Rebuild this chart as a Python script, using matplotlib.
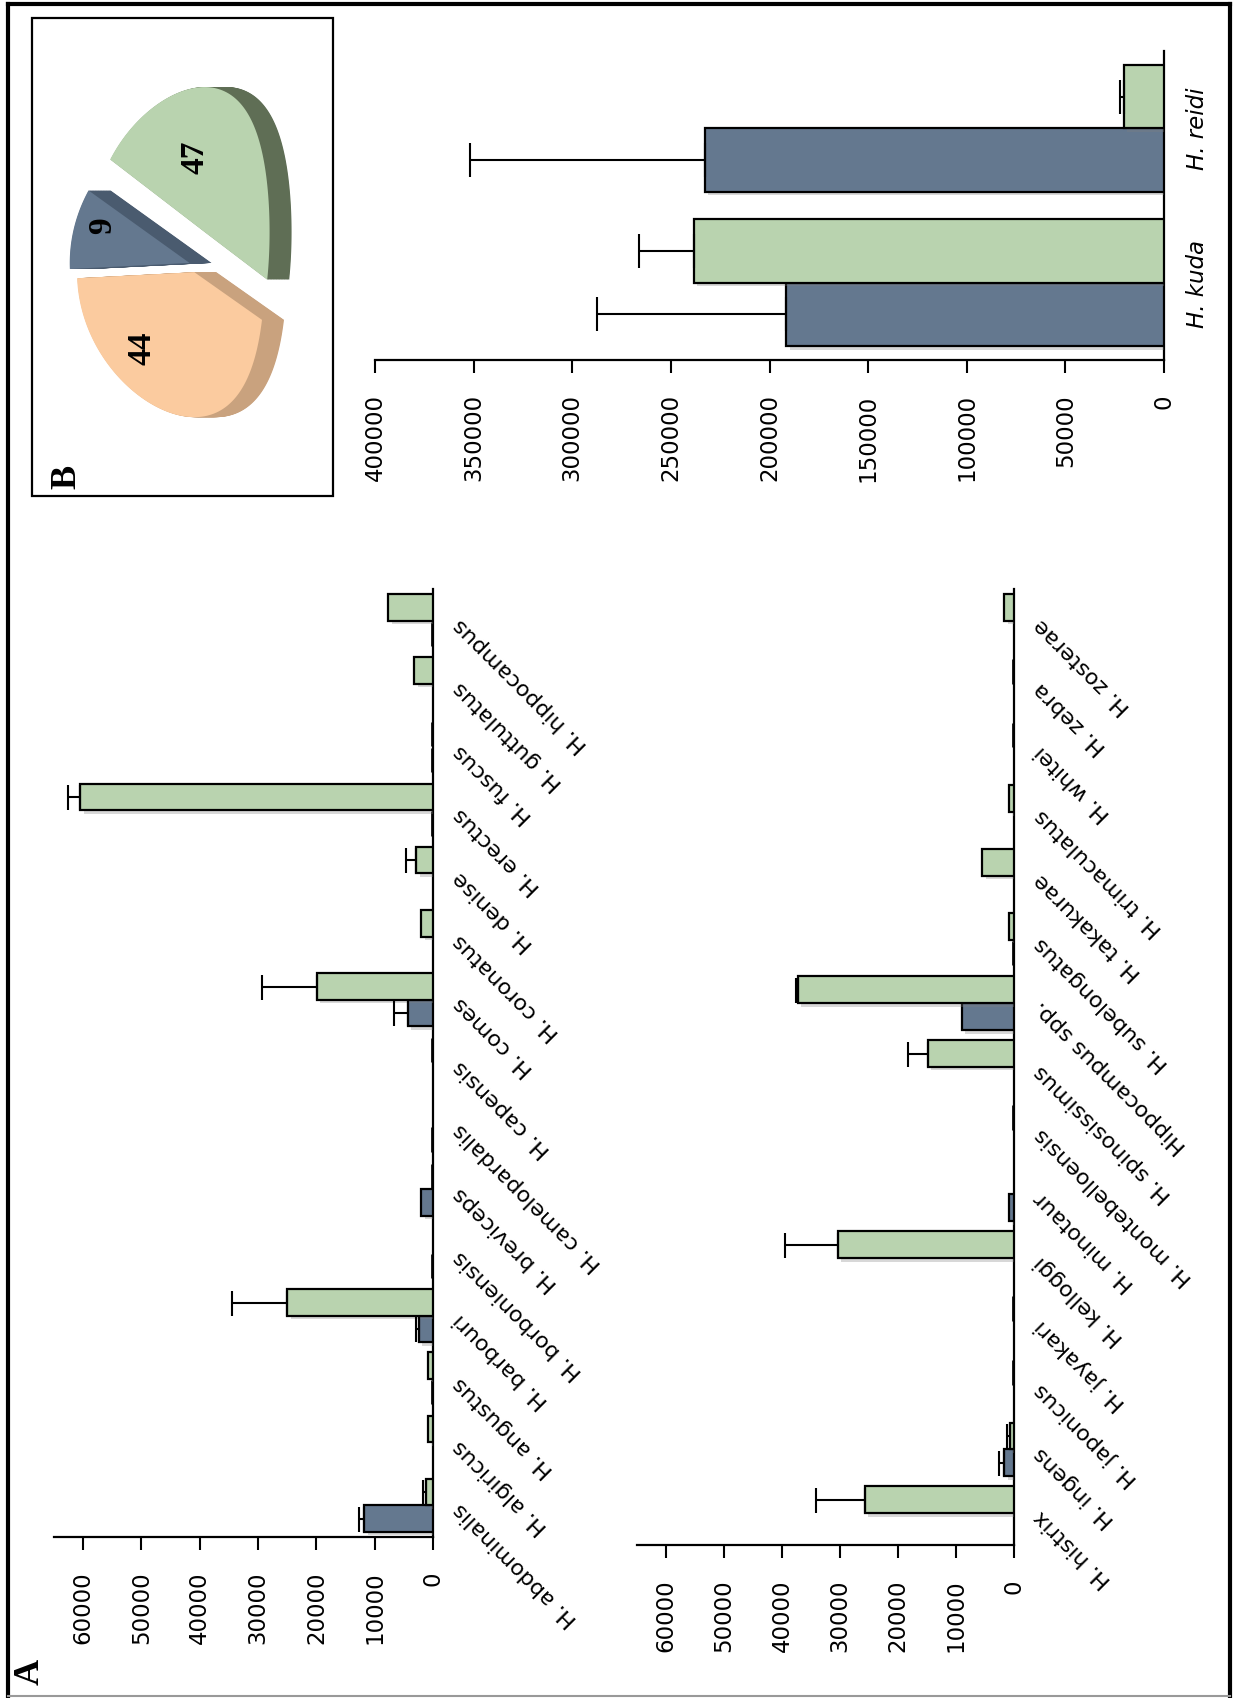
import numpy as np
import matplotlib
matplotlib.use("Agg")
import matplotlib.pyplot as plt
from matplotlib.patches import Polygon, Rectangle
from matplotlib.lines import Line2D
import matplotlib.patheffects as pe

nan = np.nan

# ---- Panel A, first block of species ----
species_a1 = ["H. abdominalis", "H. algiricus", "H. angustus", "H. barbouri",
              "H. borboniensis", "H. breviceps", "H. camelopardalis", "H. capensis",
              "H. comes", "H. coronatus", "H. denise", "H. erectus", "H. fuscus",
              "H. guttulatus", "H. hippocampus"]
blue_a1 = [11800, nan, 0, 2400, 0, 2000, 0, nan, 4300, nan, nan, 0, 0, nan, 0]
blue_a1_err = [900, 0, 0, 570, 0, 0, 0, 0, 2400, 0, 0, 0, 0, 0, 0]
green_a1 = [1150, 800, 800, 25000, nan, 0, nan, 0, 19900, 2000, 2850, 60500, 0, 3250, 7650]
green_a1_err = [550, 0, 0, 9400, 0, 0, 0, 0, 9400, 0, 1700, 2100, 0, 0, 0]

# ---- Panel A, second block of species ----
species_a2 = ["H. histrix", "H. ingens", "H. japonicus", "H. jayakari", "H. kelloggi",
              "H. minotaur", "H. montebelloensis", "H. spinosissimus", "Hippocampus spp.",
              "H. subelongatus", "H. takakurae", "H. trimaculatus", "H. whitei",
              "H. zebra", "H. zosterae"]
blue_a2 = [nan, 1700, nan, nan, nan, 800, nan, nan, 8970, 0, nan, nan, nan, nan, nan]
blue_a2_err = [0, 870, 0, 0, 0, 0, 0, 0, 0, 0, 0, 0, 0, 0, 0]
green_a2 = [25700, 750, 0, 0, 30400, nan, 0, 14900, 37300, 790, 5460, 790, 0, 0, 1650]
green_a2_err = [8500, 450, 0, 0, 9100, 0, 0, 3450, 250, 0, 0, 0, 0, 0, 0]

# ---- Panel B ----
species_b = ["H. kuda", "H. reidi"]
blue_b = [191500, 232900]
blue_b_err = [96000, 119000]
green_b = [238300, 20400]
green_b_err = [27700, 2000]

pie_values = [9, 44, 47]
pie_labels = ["9", "44", "47"]

# ---- styling ----
W, H, DPI = 1233, 1699, 100
BLUE = "#64788F"
GREEN = "#B9D3AF"
PIE_TOP = ["#64788F", "#FBCB9F", "#B9D3AF"]
PIE_SIDE = ["#4A5B6F", "#C9A27E", "#5F6E55"]
TICK_FS = 16.5
LABEL_FS = 16

plt.rcParams['font.family'] = ['DejaVu Sans']

fig = plt.figure(figsize=(W / DPI, H / DPI), dpi=DPI)


def frac(x0, y0, x1, y1):
    """Pixel box (top-down) -> figure fraction rectangle."""
    return [x0 / W, 1 - y1 / H, (x1 - x0) / W, (y1 - y0) / H]


shadow = [pe.SimplePatchShadow(offset=(2.5, -2.5), shadow_rgbFace=(0.5, 0.5, 0.5), alpha=0.3),
          pe.Normal()]


def draw_bars(ax, n, blue, blue_err, green, green_err, h, capsize):
    idx = np.arange(n)
    for vals, errs, col, off in ((blue, blue_err, BLUE, -h / 2), (green, green_err, GREEN, h / 2)):
        vals = np.asarray(vals, dtype=float)
        errs = np.asarray(errs, dtype=float)
        pos = vals > 0
        bars = ax.barh(idx[pos] + off, vals[pos], height=h, color=col,
                       edgecolor="black", linewidth=1.6, zorder=3)
        for b in bars:
            b.set_path_effects(shadow)
        # zero values: the bar collapses to its outline on the baseline
        zero = vals == 0
        if zero.any():
            ax.vlines(vals[zero], idx[zero] + off - h * 0.46, idx[zero] + off + h * 0.46,
                      colors="black", linewidth=3.4, zorder=3)
        me = pos & (errs > 0)
        if me.any():
            ax.errorbar(vals[me], idx[me] + off,
                        xerr=[np.zeros(me.sum()), errs[me]],
                        fmt="none", ecolor="black", elinewidth=1.5,
                        capsize=capsize, capthick=1.5, zorder=4)


def style_axes(ax, n, xmax, ticks):
    ax.set_xlim(xmax, 0)
    ax.set_ylim(-0.5, n - 0.5)
    for s in ("left", "top"):
        ax.spines[s].set_visible(False)
    for s in ("right", "bottom"):
        ax.spines[s].set_linewidth(1.6)
    ax.set_xticks(ticks)
    ax.set_xticklabels([str(int(t)) for t in ticks], rotation=90)
    ax.tick_params(axis="x", direction="out", length=9, width=1.5,
                   pad=15, labelsize=TICK_FS)
    ax.yaxis.tick_right()
    ax.set_yticks(np.arange(n))


# Panel A, row 1
ax1 = fig.add_axes(frac(54, 590, 433, 1538))
draw_bars(ax1, len(species_a1), blue_a1, blue_a1_err, green_a1, green_a1_err, 0.42, 9)
style_axes(ax1, len(species_a1), 65000, np.arange(0, 60001, 10000))
ax1.set_yticklabels(species_a1, rotation=135, rotation_mode="anchor",
                    ha="right", va="center", fontsize=LABEL_FS)
ax1.tick_params(axis="y", length=0, pad=17)

# Panel A, row 2
ax2 = fig.add_axes(frac(637, 590, 1014, 1546))
draw_bars(ax2, len(species_a2), blue_a2, blue_a2_err, green_a2, green_a2_err, 0.42, 9)
style_axes(ax2, len(species_a2), 65000, np.arange(0, 60001, 10000))
ax2.set_yticklabels(species_a2, rotation=135, rotation_mode="anchor",
                    ha="right", va="center", fontsize=LABEL_FS)
ax2.tick_params(axis="y", length=0, pad=17)

# Panel B bars
ax3 = fig.add_axes(frac(375, 52, 1164, 361))
draw_bars(ax3, len(species_b), blue_b, blue_b_err, green_b, green_b_err, 0.41, 12)
style_axes(ax3, len(species_b), 400000, np.arange(0, 400001, 50000))
ax3.set_yticklabels(species_b, rotation=90, ha="left", va="center",
                    fontsize=TICK_FS, fontstyle="italic")
ax3.tick_params(axis="y", length=0, pad=16)

# Panel B pie inset: exploded pie seen in perspective, depth towards +x
box = (32, 19, 333, 497)
fig.add_artist(Rectangle((box[0] / W, 1 - box[3] / H), (box[2] - box[0]) / W,
                         (box[3] - box[1]) / H, transform=fig.transFigure,
                         fill=False, lw=1.6, ec="black"))
pax = fig.add_axes(frac(*box))
pax.set_xlim(box[0], box[2])
pax.set_ylim(box[3], box[1])          # pixel rows, top-down
pax.axis("off")

cx, cy = 171.5, 266.0      # ellipse centre (pixels)
a_ax, b_ax = 93.5, 145.0   # half-axes of the top face
persp = 23.5               # widening of the far side
depth = 22.0
start = 150.0
explode = [0.06, 0.05, 0.25]
label_uv = [(-0.82, 0.28), (-0.50, -0.57), (0.0, 0.75)]


def to_px(u, v):
    return cx + a_ax * u + persp * (1 - u ** 2), cy - b_ax * v


angles = []
t = start
for v in pie_values:
    span = 360.0 * v / sum(pie_values)
    angles.append((t, t + span))
    t += span

faces = []
for (t1, t2), e in zip(angles, explode):
    mid = np.deg2rad((t1 + t2) / 2)
    du, dv = e * np.cos(mid), e * np.sin(mid)
    th = np.deg2rad(np.linspace(t1, t2, 120))
    u = np.concatenate([[0.0], np.cos(th), [0.0]]) + du
    v = np.concatenate([[0.0], np.sin(th), [0.0]]) + dv
    x, y = to_px(u, v)
    faces.append(np.column_stack([x, y]))

for pts, side in zip(faces, PIE_SIDE):
    for dx in np.linspace(depth, 0.5, 36):
        pax.add_patch(Polygon(pts + [dx, 0], closed=True, facecolor=side,
                              edgecolor="none"))
for pts, top in zip(faces, PIE_TOP):
    pax.add_patch(Polygon(pts, closed=True, facecolor=top, edgecolor="none"))

for lab, (u, v) in zip(pie_labels, label_uv):
    x, y = to_px(u, v)
    pax.text(x, y, lab, rotation=90, ha="center", va="center", fontsize=24,
             fontweight="bold", family="Liberation Serif")

# Panel letters
fig.text(30 / W, 1 - 1672 / H, "A", rotation=90, ha="center", va="center",
         fontsize=26, fontweight="bold", family="Liberation Serif")
fig.text(67 / W, 1 - 477 / H, "B", rotation=90, ha="center", va="center",
         fontsize=26, fontweight="bold", family="Liberation Serif")


# Outer frame
def fline(xs, ys, **kw):
    fig.add_artist(Line2D([x / W for x in xs], [1 - y / H for y in ys],
                          transform=fig.transFigure, **kw))


fline([8, 1230], [5, 5], color="black", lw=3)
fline([8, 8], [5, 1699], color="black", lw=3)
fline([1230, 1230], [5, 1699], color="black", lw=3)
fline([8, 1230], [1697, 1697], color="#999999", lw=1.5)

fig.savefig("out.png", dpi=DPI)
